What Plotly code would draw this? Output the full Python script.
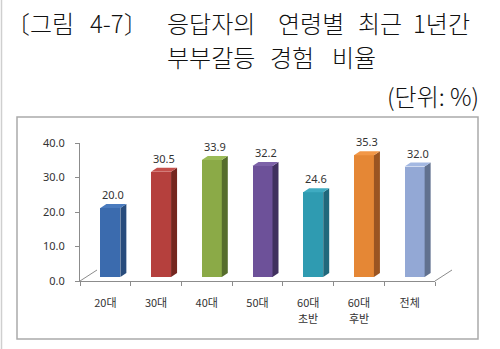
import plotly.graph_objects as go

categories = ["20대", "30대", "40대", "50대", "60대 초반", "60대 후반", "전체"]
values = [20.0, 30.5, 33.9, 32.2, 24.6, 35.3, 32.0]
value_labels = ["20.0", "30.5", "33.9", "32.2", "24.6", "35.3", "32.0"]
front_colors = ["#3B6BAE", "#B5403D", "#8BAA47", "#6D5199", "#2F9BB1", "#E58735", "#93A8D5"]
side_colors = ["#284C7C", "#74261F", "#566D2C", "#40305E", "#20687B", "#9B5522", "#61718F"]
top_colors = ["#4A7BBE", "#C4504C", "#9BBB57", "#7D62A8", "#3FABC1", "#F29747", "#A3B8E2"]
y_ticks = [0, 10, 20, 30, 40]
y_tick_text = ["0.0", "10.0", "20.0", "30.0", "40.0"]
title_line1 = ["〔그림", "4-7〕", "응답자의", "연령별", "최근", "1년간"]
title_line2 = ["부부갈등", "경험", "비율"]
unit_text = "(단위: %)"

W, H = 500, 349
L, R, T, B = 80, 65, 143, 68
PW = W - L - R
PH = H - T - B
XR = (-0.5, 6.5)
YR = (0, 40)
ux = (XR[1] - XR[0]) / PW   # data units per px
uy = (YR[1] - YR[0]) / PH

def px_x(px):
    return (px - L) / PW

def px_y(py):
    return (H - B - py) / PH

BASE = 4 * uy
RISE = 4 * uy
DEPTH = 6 * ux
BW = 20 * ux
OFF = 5 * ux

fig = go.Figure()

for i, v in enumerate(values):
    xc = i + OFF
    xl, xr = xc - BW / 2, xc + BW / 2
    top = BASE + v
    fig.add_trace(go.Scatter(
        x=[xr, xr + DEPTH, xr + DEPTH, xr, xr],
        y=[BASE, BASE + RISE, top + RISE, top, BASE],
        fill="toself", fillcolor=side_colors[i], mode="lines",
        line=dict(width=0), hoverinfo="skip", showlegend=False))
    fig.add_trace(go.Scatter(
        x=[xl, xl + DEPTH, xr + DEPTH, xr, xl],
        y=[top, top + RISE, top + RISE, top, top],
        fill="toself", fillcolor=top_colors[i], mode="lines",
        line=dict(width=0), hoverinfo="skip", showlegend=False))

fig.add_trace(go.Bar(
    x=[i + OFF for i in range(len(values))], y=values, base=BASE,
    width=BW, marker=dict(color=front_colors, line=dict(width=0)),
    showlegend=False, hoverinfo="skip"))

for i, v in enumerate(values):
    fig.add_annotation(x=i + OFF + DEPTH / 2, y=BASE + v, text=value_labels[i],
                       showarrow=False, yanchor="bottom", yshift=4,
                       font=dict(family="Noto Sans, DejaVu Sans", size=11, color="#333333"))

first_lines = [c.split(" ")[0] for c in categories]
second_lines = [c.split(" ")[1] if " " in c else "" for c in categories]
for i, s in enumerate(second_lines):
    if s:
        fig.add_annotation(x=i, yref="paper", y=px_y(318), text=s, showarrow=False,
                           yanchor="middle",
                           font=dict(family="Noto Sans CJK KR", size=11, color="#333333"))

annot_font = dict(family="Noto Sans CJK KR", color="#111111", weight=300)
line1_left = [4, 88, 165, 276, 356, 411]
line2_left = [165, 268, 330]
for word, lx in zip(title_line1, line1_left):
    fig.add_annotation(xref="paper", yref="paper", x=px_x(lx), y=px_y(23),
                       xanchor="left", yanchor="middle", showarrow=False,
                       text=word, font=dict(size=24, **annot_font))
for word, lx in zip(title_line2, line2_left):
    fig.add_annotation(xref="paper", yref="paper", x=px_x(lx), y=px_y(56),
                       xanchor="left", yanchor="middle", showarrow=False,
                       text=word, font=dict(size=24, **annot_font))
fig.add_annotation(xref="paper", yref="paper", x=px_x(481), y=px_y(95),
                   xanchor="right", yanchor="middle", showarrow=False,
                   text=unit_text, font=dict(size=24, **annot_font))

shapes = [
    dict(type="rect", xref="paper", yref="paper", x0=px_x(17), y0=px_y(117),
         x1=px_x(478), y1=px_y(339), line=dict(color="#ABABAB", width=1.5)),
    dict(type="line", xref="paper", yref="paper", x0=px_x(1.5), y0=px_y(0),
         x1=px_x(1.5), y1=px_y(349), line=dict(color="#CFCFCF", width=1.5)),
    dict(type="line", xref="paper", yref="paper", x0=0, y0=0,
         x1=px_x(L + 17), y1=px_y(H - B - 11), line=dict(color="#8C8C8C", width=1)),
    dict(type="line", xref="paper", yref="paper", x0=1, y0=0,
         x1=px_x(L + PW + 17), y1=px_y(H - B - 11), line=dict(color="#8C8C8C", width=1)),
]

fig.update_layout(
    width=W, height=H,
    margin=dict(l=L, r=R, t=T, b=B, pad=0),
    paper_bgcolor="white", plot_bgcolor="white",
    shapes=shapes,
    bargap=0,
    xaxis=dict(range=list(XR), tickvals=list(range(len(categories))),
               ticktext=first_lines, ticks="", showgrid=False, zeroline=False,
               showline=True, linecolor="#8C8C8C", linewidth=1,
               ticklabelstandoff=12,
               tickfont=dict(family="Noto Sans CJK KR", size=11, color="#333333"),
               minor=dict(tickvals=[k - 0.5 for k in range(len(categories) + 1)],
                          ticks="outside", ticklen=4, tickcolor="#8C8C8C", showgrid=False),
               fixedrange=True),
    yaxis=dict(range=list(YR), tickvals=y_ticks, ticktext=y_tick_text,
               ticks="outside", ticklen=4, tickcolor="#8C8C8C",
               showgrid=False, zeroline=False, showline=True,
               linecolor="#8C8C8C", linewidth=1, ticklabelstandoff=8,
               tickfont=dict(family="Noto Sans, DejaVu Sans", size=11, color="#333333"),
               fixedrange=True),
)

fig.write_html("out.html")
